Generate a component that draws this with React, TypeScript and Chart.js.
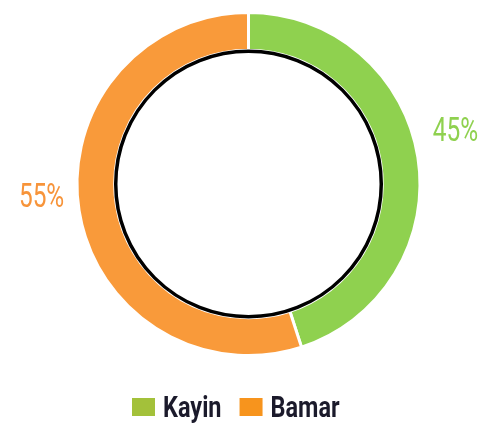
import React, { useEffect, useRef } from "react";
import { Chart, registerables } from "chart.js";

Chart.register(...registerables);

const categories = ["Kayin", "Bamar"];
const values = [45, 55];
const segmentColors = ["#8fd14f", "#f99a3a"];
const legendColors = ["#a3c13a", "#f7941d"];
const labelColors = ["#8fd14f", "#f7943a"];

const FONT = "Roboto, 'DejaVu Sans', sans-serif";

function drawScaledText(ctx: CanvasRenderingContext2D, text: string, x: number, y: number, sx: number, align: "left" | "center") {
  ctx.save();
  ctx.translate(x, y);
  ctx.scale(sx, 1);
  ctx.textAlign = align;
  ctx.fillText(text, 0, 0);
  ctx.restore();
}

const ringPlugin = {
  id: "ringPlugin",
  afterDatasetsDraw(chart: any) {
    const meta = chart.getDatasetMeta(0);
    const arc = meta.data[0];
    if (!arc) return;
    const { x, y, innerRadius, outerRadius } = arc.getProps(["x", "y", "innerRadius", "outerRadius"], true);
    const ctx = chart.ctx;
    ctx.save();
    ctx.beginPath();
    ctx.arc(x, y, innerRadius - 1, 0, Math.PI * 2);
    ctx.lineWidth = 3.5;
    ctx.strokeStyle = "#000";
    ctx.stroke();
    // percentage labels
    ctx.font = `33px ${FONT}`;
    ctx.textBaseline = "middle";
    meta.data.forEach((el: any, i: number) => {
      const p = el.getProps(["startAngle", "endAngle"], true);
      const mid = (p.startAngle + p.endAngle) / 2;
      const r = outerRadius + 38;
      const lx = x + Math.cos(mid) * r;
      const ly = y + Math.sin(mid) * r - 18;
      ctx.fillStyle = labelColors[i];
      drawScaledText(ctx, values[i] + "%", lx, ly, 0.74, "center");
    });
    ctx.restore();
  },
  afterDraw(chart: any) {
    const ctx = chart.ctx;
    const boxW = 23;
    const boxH = 18;
    const gapBoxText = 8;
    const gapItems = 18;
    const sx = 0.81;
    ctx.save();
    ctx.font = `bold 29px ${FONT}`;
    const widths = categories.map((c) => ctx.measureText(c).width * sx);
    let xPos = 132;
    const baseY = 417;
    categories.forEach((c, i) => {
      ctx.fillStyle = legendColors[i];
      ctx.fillRect(xPos, baseY - 19, boxW, boxH);
      xPos += boxW + gapBoxText;
      ctx.fillStyle = "#1b1a2b";
      ctx.textBaseline = "alphabetic";
      drawScaledText(ctx, c, xPos, baseY, sx, "left");
      xPos += widths[i] + gapItems;
    });
    ctx.restore();
  },
};

export default function App() {
  const ref = useRef<HTMLCanvasElement | null>(null);
  useEffect(() => {
    if (!ref.current) return;
    const chart = new Chart(ref.current, {
      type: "doughnut",
      data: {
        labels: categories,
        datasets: [
          {
            data: values,
            backgroundColor: segmentColors,
            borderColor: "#ffffff",
            borderWidth: 3,
          },
        ],
      },
      options: {
        animation: false,
        responsive: false,
        cutout: "78%",
        layout: { padding: { top: 11, left: 7, right: 0, bottom: 69 } },
        plugins: {
          tooltip: { enabled: false },
          legend: { display: false },
        },
      },
      plugins: [ringPlugin],
    });
    return () => chart.destroy();
  }, []);
  return (
    <div style={{ position: "fixed", left: 0, top: 0, width: 490, height: 426, background: "#fff" }}>
      <canvas ref={ref} width={490} height={426} />
    </div>
  );
}
